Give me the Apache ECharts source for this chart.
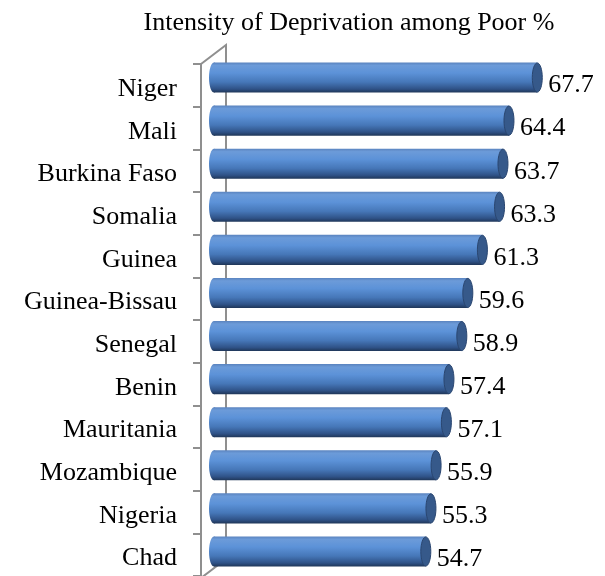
<!DOCTYPE html>
<html>
<head>
<meta charset="utf-8">
<script src="https://cdn.jsdelivr.net/npm/echarts@6/dist/echarts.min.js"></script>
<style>
  html, body { margin: 0; padding: 0; background: #ffffff; }
  #chart { width: 605px; height: 576px; }
</style>
</head>
<body>
<div id="chart"></div>
<script>
// Intensity of deprivation among the poor, by country (%)
const countries = ['Niger', 'Mali', 'Burkina Faso', 'Somalia', 'Guinea', 'Guinea-Bissau',
  'Senegal', 'Benin', 'Mauritania', 'Mozambique', 'Nigeria', 'Chad'];
const intensity = [67.7, 64.4, 63.7, 63.3, 61.3, 59.6, 58.9, 57.4, 57.1, 55.9, 55.3, 54.7];
const chartTitle = 'Intensity of Deprivation among Poor %';

const FONT = '"Liberation Serif", "Times New Roman", serif';
const AXIS_GREY = '#8f8f8f';

// vertical shading that gives each bar a rounded, tube-like look
const tubeFill = {
  type: 'linear', x: 0, y: 0, x2: 0, y2: 1,
  colorStops: [
    { offset: 0.00, color: '#5a83be' },
    { offset: 0.10, color: '#6c9bd9' },
    { offset: 0.35, color: '#5c92d8' },
    { offset: 0.65, color: '#4677b8' },
    { offset: 0.88, color: '#2f5287' },
    { offset: 1.00, color: '#1f3658' }
  ]
};

function renderTube(params, api) {
  const value = api.value(0);
  const cat = api.value(1);
  const p0 = api.coord([api.value(2), cat]);
  const p1 = api.coord([value, cat]);
  const band = api.size([0, 1])[1];
  const h = band * 0.70;
  const top = p0[1] - h / 2;
  const rx = 5;
  return {
    type: 'group',
    children: [
      { type: 'ellipse', shape: { cx: p0[0], cy: p0[1], rx: rx, ry: h / 2 },
        style: { fill: tubeFill } },
      { type: 'rect', shape: { x: p0[0], y: top, width: p1[0] - p0[0], height: h },
        style: { fill: tubeFill } },
      { type: 'ellipse', shape: { cx: p1[0], cy: p1[1], rx: rx, ry: h / 2 - 0.5 },
        style: { fill: '#36598a', stroke: '#2a4670', lineWidth: 1 } },
      { type: 'text', x: p1[0] + rx + 6, y: p1[1] + 8,
        style: { text: String(value), fill: '#000', font: '26px ' + FONT,
                 align: 'left', verticalAlign: 'middle' } }
    ]
  };
}

const AXIS_MIN = 30;
const AXIS_MAX = 70;

const chart = echarts.init(document.getElementById('chart'), null, { renderer: 'canvas' });
chart.setOption({
  animation: false,
  backgroundColor: '#ffffff',
  title: {
    text: chartTitle,
    left: 344, top: 5,
    textAlign: 'center',
    textStyle: { fontFamily: FONT, fontSize: 26, fontWeight: 'normal', color: '#000' }
  },
  grid: [
    // front edge of the wall with category ticks and labels
    { left: 201, top: 64, width: 1, bottom: -2 },
    // plane the tubes sit in, slightly set back from the wall edge
    { left: 214, top: 56, right: 48, bottom: 3 }
  ],
  xAxis: [
    { gridIndex: 0, type: 'value', min: 0, max: 1, show: false },
    { gridIndex: 1, type: 'value', min: AXIS_MIN, max: AXIS_MAX, show: false }
  ],
  yAxis: [
    {
      gridIndex: 0, type: 'category', data: countries, inverse: true,
      axisLine: { show: true, lineStyle: { color: AXIS_GREY, width: 2 } },
      axisTick: { show: true, length: 8, lineStyle: { color: AXIS_GREY, width: 2 } },
      axisLabel: {
        margin: 24,
        formatter: (name) => '{c|' + name + '}',
        rich: { c: { color: '#000', fontFamily: FONT, fontSize: 26, padding: [8, 0, 0, 0] } }
      },
      splitLine: { show: false }
    },
    { gridIndex: 1, type: 'category', data: countries, inverse: true, show: false }
  ],
  graphic: [
    { type: 'polyline', z: 0,
      shape: { points: [[201, 64], [226, 45], [226, 559], [201, 578]] },
      style: { stroke: AXIS_GREY, lineWidth: 2, fill: null } }
  ],
  series: [
    {
      type: 'custom',
      xAxisIndex: 1, yAxisIndex: 1,
      z: 5,
      renderItem: renderTube,
      encode: { x: 0, y: 1 },
      data: intensity.map((v, i) => [v, i, AXIS_MIN])
    }
  ]
});
</script>
</body>
</html>
